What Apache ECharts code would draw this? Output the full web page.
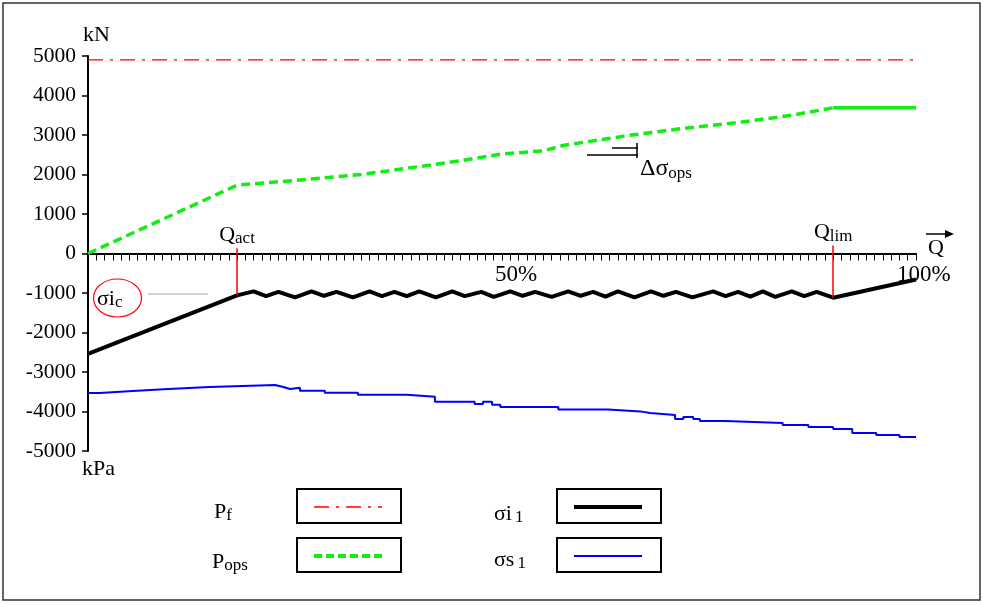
<!DOCTYPE html>
<html>
<head>
<meta charset="utf-8">
<script src="https://cdn.jsdelivr.net/npm/echarts@6/dist/echarts.min.js"></script>
<style>
  html, body { margin: 0; padding: 0; background: #fff; }
  #chart { width: 983px; height: 605px; }
</style>
</head>
<body>
<div id="chart"></div>
<script>
// Q in percent, values in kN (forces) and kPa (stresses)
const qAct = 18;
const qLim = 90;

const pfX = [0, 100];
const pfY = [4900, 4900];

const pOpsX = [0, 18, 25, 33, 40, 45, 50, 55, 57.5, 65, 72, 79, 85, 90, 100];
const pOpsY = [0, 1730, 1850, 2000, 2200, 2350, 2520, 2600, 2740, 2980, 3170, 3330, 3500, 3690, 3690];

const siX = [0, 18, 20, 21.5, 23, 25, 27, 28.5, 30, 32, 34, 35.5, 37, 38.5, 40, 42, 44, 45.5,
  47.5, 49, 51, 52.5, 54, 56, 58, 59.5, 61, 62.5, 64, 66, 68, 69.5, 71, 73, 75.5, 77, 78.5,
  80, 81.5, 83, 85, 86.5, 88, 90, 100];
const siY = [-2540, -1060, -960, -1080, -970, -1110, -960, -1070, -970, -1110, -960, -1080,
  -970, -1080, -960, -1110, -960, -1080, -970, -1100, -960, -1070, -970, -1100, -960, -1070,
  -970, -1090, -960, -1110, -960, -1070, -970, -1110, -960, -1080, -970, -1090, -960, -1100,
  -960, -1080, -970, -1120, -660];

const ssX = [0, 1.4, 5.4, 9.7, 14.7, 22.6, 23.6, 24.4, 25.6, 28.6, 32.6, 38.5, 41.9, 46.7,
  47.7, 48.8, 49.8, 56.8, 62.8, 66.7, 67.9, 70.9, 71.9, 73.1, 73.9, 76.9, 83.9, 87, 90,
  92.3, 95.2, 98, 100];
const ssY = [-3530, -3480, -3430, -3380, -3330, -3380, -3430, -3400, -3477, -3528, -3579,
  -3629, -3756, -3807, -3756, -3832, -3883, -3947, -3997, -4036, -4086, -4188, -4137, -4188,
  -4239, -4289, -4340, -4391, -4442, -4543, -4594, -4645, -4645];

const yTicks = [-5000, 5000, 1000]; // min, max, step
const xTickLabels = [50, 100];

const zip = (xs, ys) => xs.map((x, i) => [x, ys[i]]);
const serif = 'Liberation Serif';

const pOpsAll = zip(pOpsX, pOpsY);
const pOpsRise = pOpsAll.filter(p => p[0] <= qLim);
const pOpsFlat = pOpsAll.filter(p => p[0] >= qLim);
const siData = zip(siX, siY);
const siAt = q => siY[siX.indexOf(q)];

const subRich = {
  m: { fontFamily: serif, fontSize: 22, lineHeight: 23, color: '#000', verticalAlign: 'top' },
  s: { fontFamily: serif, fontSize: 17, lineHeight: 17, color: '#000', verticalAlign: 'bottom', padding: [11, 0, 0, 0] },
  t: { fontFamily: serif, fontSize: 17, lineHeight: 17, color: '#000', verticalAlign: 'bottom', padding: [19, 0, 0, 0] },
  u: { fontFamily: serif, fontSize: 17, lineHeight: 17, color: '#000', verticalAlign: 'bottom', padding: [14, 0, 0, 3] }
};

function txt(x, y, text, extra) {
  return {
    type: 'text', left: x, top: y, silent: true,
    style: Object.assign({ text: text, font: '22px "Liberation Serif"', fill: '#000', rich: subRich }, extra || {})
  };
}
function seg(x1, y1, x2, y2, stroke, width, dash) {
  return {
    type: 'line', silent: true,
    shape: { x1: x1, y1: y1, x2: x2, y2: y2 },
    style: { stroke: stroke, lineWidth: width, lineDash: dash || null }
  };
}

const pfDash = [15, 7, 3, 7];
const legendItems = [
  { label: '{m|P}{s|f}', tx: 214, ty: 496, bx: 297, by: 489, color: '#ff0000', w: 1.5, dash: pfDash },
  { label: '{m|P}{t|ops}', tx: 212, ty: 538, bx: 297, by: 538, color: '#11ee11', w: 4, dash: [8, 4] },
  { label: '{m|σi}{u|1}', tx: 494, ty: 495, bx: 557, by: 489, color: '#000000', w: 4, dash: null },
  { label: '{m|σs}{u|1}', tx: 494, ty: 541, bx: 557, by: 538, color: '#0000ff', w: 2, dash: null }
];

const graphics = [
  { type: 'rect', silent: true, shape: { x: 3, y: 3, width: 977, height: 597 },
    style: { fill: 'none', stroke: '#333', lineWidth: 1.5 } },
  txt(83, 24, 'kN'),
  txt(82, 458, 'kPa'),
  // sigma_ic marker
  { type: 'ellipse', silent: true, shape: { cx: 117.5, cy: 298, rx: 24, ry: 19 },
    style: { fill: 'none', stroke: '#ff0000', lineWidth: 1.2 } },
  txt(97, 283, '{m|σi}{s|c}'),
  seg(148, 294, 208, 294, '#c4c4c4', 1.5),
  // delta sigma_ops marker
  seg(587, 155, 638, 155, '#000', 1.5),
  seg(612, 148, 638, 148, '#000', 1.5),
  seg(637, 143, 637, 158, '#000', 1.5),
  txt(640, 154, '{d|Δσ}{s|ops}', { rich: Object.assign({}, subRich, {
    d: { fontFamily: serif, fontSize: 24, lineHeight: 25, color: '#000', verticalAlign: 'top' } }) }),
  // Q arrow
  seg(926, 234, 949, 234, '#000', 1.5),
  { type: 'polygon', silent: true, shape: { points: [[945, 230], [954, 234], [945, 238]] },
    style: { fill: '#000' } },
  txt(928, 237, 'Q')
];

legendItems.forEach(it => {
  graphics.push(txt(it.tx, it.ty, it.label));
  graphics.push({ type: 'rect', silent: true, shape: { x: it.bx, y: it.by, width: 104, height: 34 },
    style: { fill: '#fff', stroke: '#000', lineWidth: 2 } });
  graphics.push(seg(it.bx + 17, it.by + 18, it.bx + 85, it.by + 18, it.color, it.w, it.dash));
});

const chart = echarts.init(document.getElementById('chart'));
chart.setOption({
  backgroundColor: '#fff',
  animation: false,
  grid: { left: 88, right: 67, top: 56, bottom: 154 },
  xAxis: {
    type: 'value', min: 0, max: 100, interval: 1,
    axisLine: { onZero: true, lineStyle: { color: '#000', width: 2 } },
    axisTick: { show: true, length: 7, lineStyle: { color: '#000', width: 1 } },
    splitLine: { show: false },
    axisLabel: { show: false }
  },
  yAxis: {
    type: 'value', min: yTicks[0], max: yTicks[1], interval: yTicks[2],
    axisLine: { show: true, lineStyle: { color: '#000', width: 2 } },
    axisTick: { show: true, length: 6, lineStyle: { color: '#000', width: 1.5 } },
    splitLine: { show: false },
    axisLabel: { margin: 12, color: '#000', fontFamily: serif, fontSize: 21.5, formatter: v => String(v) }
  },
  series: [
    {
      name: 'Pf', type: 'line', data: zip(pfX, pfY), symbol: 'none', silent: true,
      lineStyle: { color: '#ff0000', width: 1.2, type: pfDash }
    },
    {
      name: 'Pops', type: 'line', data: pOpsRise, symbol: 'none', silent: true,
      lineStyle: { color: '#11ee11', width: 3.5, type: [9, 5] }
    },
    {
      name: 'Pops tail', type: 'line', data: pOpsFlat, symbol: 'none', silent: true,
      lineStyle: { color: '#11ee11', width: 3.5 }
    },
    {
      name: 'σs1', type: 'line', data: zip(ssX, ssY), step: 'end', symbol: 'none', silent: true,
      lineStyle: { color: '#0000ff', width: 2 }
    },
    {
      name: 'σi1', type: 'line', data: siData, symbol: 'none', silent: true,
      lineStyle: { color: '#000', width: 4 },
      markLine: {
        silent: true, symbol: ['none', 'none'], animation: false,
        lineStyle: { color: '#ff0000', width: 1.5, type: 'solid' },
        data: [
          [{ coord: [qAct, siAt(qAct)], label: { show: true, position: 'end', distance: 1,
              formatter: '{m|Q}{s|act}', rich: subRich } },
           { coord: [qAct, 130] }],
          [{ coord: [qLim, siAt(qLim)], label: { show: true, position: 'end', distance: 1,
              formatter: '{m|Q}{s|lim}', rich: subRich } },
           { coord: [qLim, 200] }]
        ]
      }
    }
  ],
  graphic: graphics
});

// x tick labels sit just under the zero line, placed through the axis scale
const xLabelShift = { 50: -7, 100: -19 };
const xLabelGraphics = xTickLabels.map(v => {
  const p = chart.convertToPixel({ gridIndex: 0 }, [v, 0]);
  return txt(p[0] + xLabelShift[v], p[1] + 10, v + '%', { font: '23px "Liberation Serif"' });
});
chart.setOption({ graphic: graphics.concat(xLabelGraphics) });
</script>
</body>
</html>
